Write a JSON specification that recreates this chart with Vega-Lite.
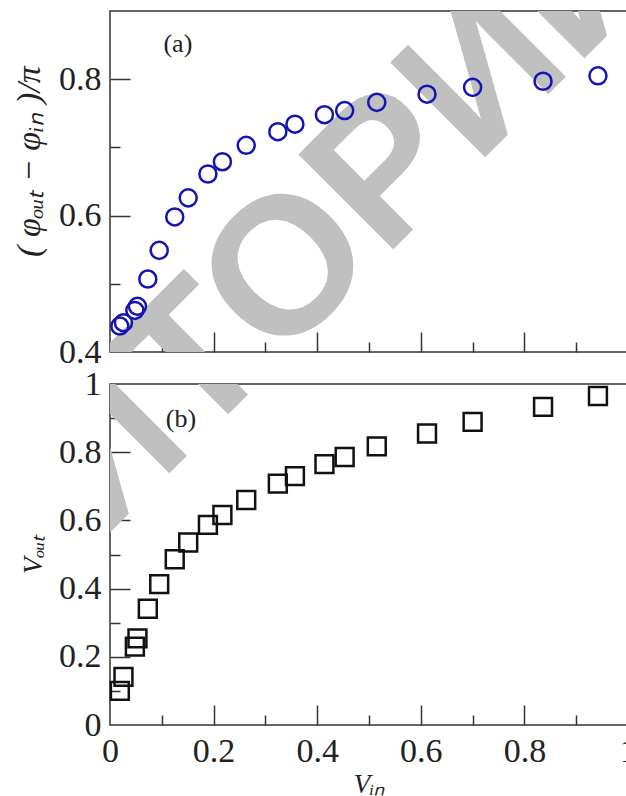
{
  "$schema": "https://vega.github.io/schema/vega-lite/v6.json",
  "padding": {"left": 11, "top": 10, "right": 0, "bottom": 0},
  "background": "white",
  "bounds": "flush",
  "spacing": 32,
  "config": {
    "font": "Liberation Serif",
    "view": {"stroke": "#333333", "strokeWidth": 1.5},
    "axis": {
      "domain": false,
      "grid": false,
      "zindex": 1,
      "labelFlush": false,
      "tickColor": "#333333",
      "tickWidth": 1.5,
      "labelFont": "Liberation Serif",
      "labelFontSize": 34,
      "labelColor": "#222222",
      "titleFont": "Liberation Serif",
      "titleFontSize": 27,
      "titleFontStyle": "italic",
      "titleFontWeight": "normal",
      "titleColor": "#222222"
    }
  },
  "datasets": {
    "pts": [
      {"x": 0.019, "phase": 0.438, "vout": 0.100},
      {"x": 0.026, "phase": 0.443, "vout": 0.141},
      {"x": 0.048, "phase": 0.461, "vout": 0.230},
      {"x": 0.053, "phase": 0.467, "vout": 0.254},
      {"x": 0.073, "phase": 0.507, "vout": 0.341},
      {"x": 0.095, "phase": 0.549, "vout": 0.413},
      {"x": 0.125, "phase": 0.598, "vout": 0.486},
      {"x": 0.151, "phase": 0.626, "vout": 0.535},
      {"x": 0.189, "phase": 0.661, "vout": 0.587},
      {"x": 0.217, "phase": 0.679, "vout": 0.616},
      {"x": 0.263, "phase": 0.703, "vout": 0.660},
      {"x": 0.324, "phase": 0.723, "vout": 0.708},
      {"x": 0.357, "phase": 0.734, "vout": 0.730},
      {"x": 0.414, "phase": 0.748, "vout": 0.765},
      {"x": 0.453, "phase": 0.754, "vout": 0.786},
      {"x": 0.515, "phase": 0.766, "vout": 0.817},
      {"x": 0.612, "phase": 0.778, "vout": 0.855},
      {"x": 0.700, "phase": 0.788, "vout": 0.889},
      {"x": 0.836, "phase": 0.797, "vout": 0.933},
      {"x": 0.942, "phase": 0.805, "vout": 0.965}
    ]
  },
  "vconcat": [
    {
      "width": 518,
      "height": 341,
      "resolve": {"axis": {"x": "independent", "y": "independent"}},
      "layer": [
        {
          "data": {"values": [{"wm": "ЗИТОРИЙ"}]},
          "mark": {"type": "text", "font": "Liberation Sans", "fontWeight": "bold", "fontSize": 195, "color": "#c0c0c0", "angle": -45, "align": "left", "baseline": "alphabetic", "clip": true},
          "encoding": {
            "x": {"datum": -0.192, "type": "quantitative", "scale": {"domain": [0, 1]}, "axis": null},
            "y": {"datum": -0.0106, "type": "quantitative", "scale": {"domain": [0.4, 0.9]}, "axis": null},
            "text": {"field": "wm"}
          }
        },
        {
          "data": {"name": "pts"},
          "mark": {"type": "point", "shape": "circle", "filled": false, "size": 290, "strokeWidth": 2.5, "color": "#1414b4", "opacity": 1},
          "encoding": {
            "x": {
              "field": "x", "type": "quantitative",
              "scale": {"domain": [0, 1]},
              "axis": {"orient": "bottom", "title": null, "values": [0.2, 0.4, 0.6, 0.8], "labels": false, "tickSize": -20}
            },
            "y": {
              "field": "phase", "type": "quantitative",
              "scale": {"domain": [0.4, 0.9]},
              "axis": {
                "orient": "left",
                "title": "( φₒᵤₜ − φᵢₙ )/π",
                "titleFontSize": 34,
                "titlePadding": 12,
                "titleY": 150,
                "values": [0.4, 0.6, 0.8],
                "labelFont": "Liberation Serif",
                "labelExpr": "format(datum.value, '~g')",
                "labelPadding": 29,
                "tickSize": -20,
                "tickOpacity": 0
              }
            }
          }
        },
        {
          "data": {"name": "pts"},
          "mark": {"type": "point", "opacity": 0},
          "encoding": {
            "x": {
              "field": "x", "type": "quantitative",
              "scale": {"domain": [0, 1]},
              "axis": {"orient": "bottom", "title": null, "values": [0.1, 0.3, 0.5, 0.7, 0.9], "labels": false, "tickSize": -10}
            },
            "y": {
              "field": "phase", "type": "quantitative",
              "scale": {"domain": [0.4, 0.9]},
              "axis": {"orient": "left", "title": null, "values": [0.5, 0.7], "labels": false, "tickSize": -10}
            }
          }
        },
        {
          "data": {"name": "pts"},
          "mark": {"type": "point", "opacity": 0},
          "encoding": {
            "y": {
              "field": "phase", "type": "quantitative",
              "scale": {"domain": [0.4, 0.9]},
              "axis": {"orient": "left", "title": null, "values": [0.6, 0.8], "labels": false, "tickSize": -20}
            }
          }
        },
        {
          "data": {"values": [{"label": "(a)"}]},
          "mark": {"type": "text", "font": "Liberation Serif", "fontSize": 26, "color": "#222222"},
          "encoding": {
            "x": {"datum": 0.131, "type": "quantitative", "scale": {"domain": [0, 1]}, "axis": null},
            "y": {"datum": 0.852, "type": "quantitative", "scale": {"domain": [0.4, 0.9]}, "axis": null},
            "text": {"field": "label"}
          }
        }
      ]
    },
    {
      "width": 518,
      "height": 341,
      "resolve": {"axis": {"x": "independent", "y": "independent"}},
      "layer": [
        {
          "data": {"values": [{"wm": "ЗИТОРИЙ"}]},
          "mark": {"type": "text", "font": "Liberation Sans", "fontWeight": "bold", "fontSize": 195, "color": "#c0c0c0", "angle": -45, "align": "left", "baseline": "alphabetic", "clip": true},
          "encoding": {
            "x": {"datum": -0.192, "type": "quantitative", "scale": {"domain": [0, 1]}, "axis": null},
            "y": {"datum": 0.273, "type": "quantitative", "scale": {"domain": [0, 1]}, "axis": null},
            "text": {"field": "wm"}
          }
        },
        {
          "data": {"name": "pts"},
          "mark": {"type": "point", "shape": "square", "filled": false, "size": 320, "strokeWidth": 2.5, "color": "#111111", "opacity": 1},
          "encoding": {
            "x": {
              "field": "x", "type": "quantitative",
              "scale": {"domain": [0, 1]},
              "axis": {
                "orient": "bottom",
                "title": "Vᵢₙ",
                "titlePadding": 3,
                "values": [0, 0.2, 0.4, 0.6, 0.8, 1],
                "labelFont": "Liberation Serif",
                "labelExpr": "format(datum.value, '~g')",
                "labelPadding": 29,
                "tickSize": -20,
                "tickOpacity": 0
              }
            },
            "y": {
              "field": "vout", "type": "quantitative",
              "scale": {"domain": [0, 1]},
              "axis": {
                "orient": "left",
                "title": "Vₒᵤₜ",
                "titlePadding": 11,
                "values": [0, 0.2, 0.4, 0.6, 0.8, 1],
                "labelFont": "Liberation Serif",
                "labelExpr": "format(datum.value, '~g')",
                "labelPadding": 29,
                "tickSize": -20,
                "tickOpacity": 0
              }
            }
          }
        },
        {
          "data": {"name": "pts"},
          "mark": {"type": "point", "opacity": 0},
          "encoding": {
            "x": {
              "field": "x", "type": "quantitative",
              "scale": {"domain": [0, 1]},
              "axis": {"orient": "bottom", "title": null, "values": [0.1, 0.3, 0.5, 0.7, 0.9], "labels": false, "tickSize": -10}
            },
            "y": {
              "field": "vout", "type": "quantitative",
              "scale": {"domain": [0, 1]},
              "axis": {"orient": "left", "title": null, "values": [0.1, 0.3, 0.5, 0.7, 0.9], "labels": false, "tickSize": -10}
            }
          }
        },
        {
          "data": {"name": "pts"},
          "mark": {"type": "point", "opacity": 0},
          "encoding": {
            "x": {
              "field": "x", "type": "quantitative",
              "scale": {"domain": [0, 1]},
              "axis": {"orient": "bottom", "title": null, "values": [0.2, 0.4, 0.6, 0.8], "labels": false, "tickSize": -20}
            },
            "y": {
              "field": "vout", "type": "quantitative",
              "scale": {"domain": [0, 1]},
              "axis": {"orient": "left", "title": null, "values": [0.2, 0.4, 0.6, 0.8], "labels": false, "tickSize": -20}
            }
          }
        },
        {
          "data": {"values": [{"label": "(b)"}]},
          "mark": {"type": "text", "font": "Liberation Serif", "fontSize": 26, "color": "#222222"},
          "encoding": {
            "x": {"datum": 0.137, "type": "quantitative", "scale": {"domain": [0, 1]}, "axis": null},
            "y": {"datum": 0.897, "type": "quantitative", "scale": {"domain": [0, 1]}, "axis": null},
            "text": {"field": "label"}
          }
        }
      ]
    }
  ]
}
